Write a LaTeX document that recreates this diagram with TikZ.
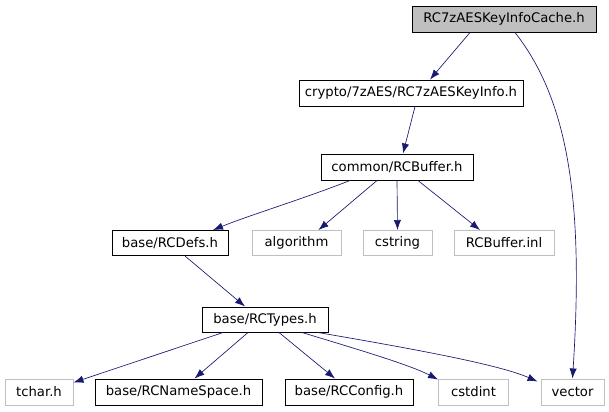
\documentclass[tikz,border=0pt]{standalone}
\usepackage{fontspec}
\setmainfont{DejaVu Sans}
\usetikzlibrary{arrows.meta,calc}
\definecolor{edgecol}{HTML}{191970}
\definecolor{graybord}{HTML}{BFBFBF}
\tikzset{
  nbox/.style n args={2}{draw=black, line width=0.75pt, rectangle, inner sep=0pt,
    minimum width=#1*0.75pt, minimum height=#2*0.75pt, font=\fontsize{9.9}{11}\selectfont, text=black},
  gbox/.style n args={2}{nbox={#1}{#2}, draw=graybord},
  edge/.style={draw=edgecol, line width=0.5pt, -{Latex[length=7.5pt,width=5.5pt]}}
}
\begin{document}
\begin{tikzpicture}[x=0.75pt,y=-0.75pt]
\useasboundingbox (0,0) rectangle (609,411);
% row 0
\node[nbox={184}{26}, fill=graybord] (cache) at (504,19) {RC7zAESKeyInfoCache.h};
% row 1
\node[nbox={224}{26}] (crypto) at (411,93) {crypto/7zAES/RC7zAESKeyInfo.h};
% row 2
\node[nbox={152}{26}] (rcb) at (397,167) {common/RCBuffer.h};
% row 3
\node[nbox={116}{25}] (defs) at (170,243) {base/RCDefs.h};
\node[gbox={89}{25}] (algo) at (296.5,243) {algorithm};
\node[gbox={69}{25}] (cstr) at (397.5,243) {cstring};
\node[gbox={100}{25}] (inl) at (504,243) {RCBuffer.inl};
% row 4
\node[nbox={126}{25}] (types) at (265,319.5) {base/RCTypes.h};
% row 5
\node[gbox={68}{26}] (tchar) at (39,392) {tchar.h};
\node[nbox={167}{26}] (ns) at (178.5,392) {base/RCNameSpace.h};
\node[nbox={128}{26}] (cfg) at (349,392) {base/RCConfig.h};
\node[gbox={70}{26}] (cstdint) at (473.5,392) {cstdint};
\node[gbox={63}{26}] (vector) at (572.5,392) {vector};
% edges
\draw[edge] ($(cache.south)+(-34,0)$) -- ($(crypto.north)+(19,0)$);
\draw[edge] ($(cache.south)+(11,0)$) .. controls (568,100) and (584,200) .. (vector.north);
\draw[edge] ($(crypto.south)+(4,0)$) -- ($(rcb.north)+(6,0)$);
\draw[edge] ($(rcb.south)+(-47,0)$) .. controls (300,200) and (250,215) .. ($(defs.north)+(43,0)$);
\draw[edge] ($(rcb.south)+(-20,0)$) -- ($(algo.north)+(22,0)$);
\draw[edge] (rcb.south) -- (cstr.north);
\draw[edge] ($(rcb.south)+(21,0)$) -- ($(inl.north)+(-24,0)$);
\draw[edge] ($(defs.south)+(15,0)$) -- ($(types.north)+(-20,0)$);
\draw[edge] ($(types.south)+(-42,0)$) -- ($(tchar.north east)+(0,4)$);
\draw[edge] ($(types.south)+(-17,0)$) -- ($(ns.north)+(16,0)$);
\draw[edge] ($(types.south)+(14,0)$) -- ($(cfg.north)+(-14,0)$);
\draw[edge] ($(types.south)+(37,0)$) .. controls (360,350) and (410,365) .. ($(cstdint.north west)+(0,1)$);
\draw[edge] ($(types.south)+(53,0)$) .. controls (420,350) and (500,365) .. ($(vector.north west)+(-3,3)$);
\end{tikzpicture}
\end{document}
